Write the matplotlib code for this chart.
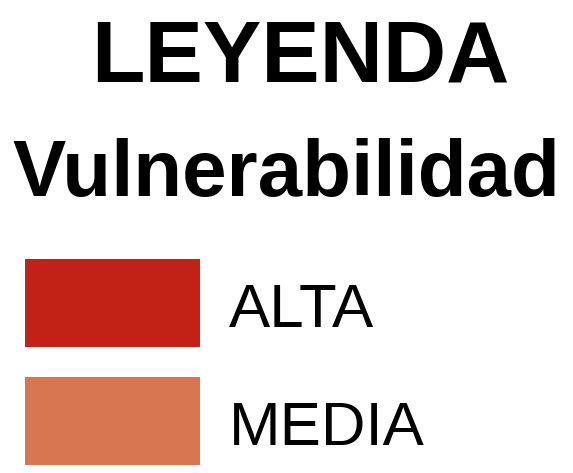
import matplotlib

matplotlib.use("Agg")
import matplotlib.pyplot as plt

title = "LEYENDA"
subtitle = "Vulnerabilidad"
categories = ["ALTA", "MEDIA"]
colors = ["#c12215", "#d97652"]

fig = plt.figure(figsize=(5.73, 4.73), dpi=100)
ax = fig.add_axes([0, 0, 1, 1])
ax.set_xlim(0, 573)
ax.set_ylim(473, 0)
ax.axis("off")

font = "Liberation Sans"
ax.text(300, 82, title, ha="center", va="baseline", fontsize=63,
        fontweight="bold", family=font)
ax.text(286, 196, subtitle, ha="center", va="baseline", fontsize=57.5,
        fontweight="bold", family=font)

# swatches + labels
tops = [259, 377]
for top, lab, col in zip(tops, categories, colors):
    ax.bar(25, 88, width=175, bottom=top, align="edge", color=col,
           edgecolor="none")
    ax.text(229, top + 68, lab, ha="left", va="baseline", fontsize=44.5,
            family=font)

fig.savefig("out.png", dpi=100)
